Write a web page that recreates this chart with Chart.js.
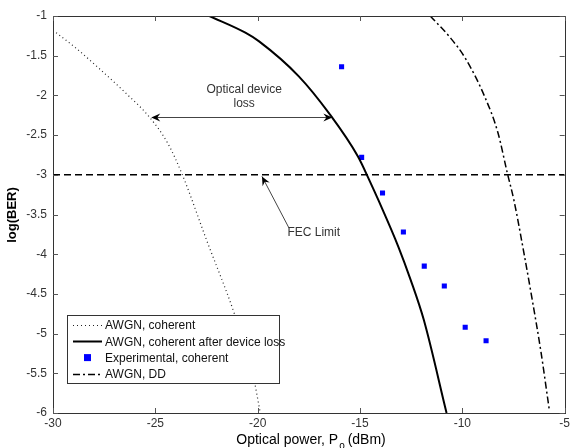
<!DOCTYPE html>
<html><head><meta charset="utf-8">
<script src="https://cdn.jsdelivr.net/npm/chart.js@4/dist/chart.umd.min.js"></script>
<style>html,body{margin:0;padding:0;background:#fff}#wrap{width:573px;height:448px}</style>
</head><body><div id="wrap"><canvas id="c" width="573" height="448"></canvas></div>
<script>
// Data
const xTicks = [-30, -25, -20, -15, -10, -5];
const yTicks = [-1, -1.5, -2, -2.5, -3, -3.5, -4, -4.5, -5, -5.5, -6];

const cohX = [-30, -28.9, -27.75, -26.45, -25.3, -24.4, -23.68, -22.5, -21.15, -20.26, -19.87];
const cohY = [-1.18, -1.4, -1.66, -1.97, -2.27, -2.60, -3.0, -3.82, -4.74, -5.48, -6.0];

const lossX = [-22.36, -20.6, -19.93, -17.99, -16.5, -15.1, -14.54, -14.1, -13.12, -12.53, -11.88, -10.77];
const lossY = [-1.0, -1.21, -1.32, -1.76, -2.23, -2.77, -3.07, -3.32, -3.91, -4.32, -4.83, -6.0];

const expX = [-15.9, -14.92, -13.9, -12.88, -11.86, -10.88, -9.86, -8.84];
const expY = [-1.64, -2.78, -3.23, -3.72, -4.15, -4.40, -4.92, -5.09];

const ddX = [-11.57, -10.6, -9.86, -8.9, -8.26, -7.80, -7.48, -6.98, -6.58, -6.17, -5.74];
const ddY = [-1.0, -1.27, -1.53, -2.02, -2.47, -2.98, -3.32, -4.0, -4.58, -5.21, -5.98];

const fecX = [-30, -5];
const fecY = [-3, -3];

const seriesLabels = ['AWGN, coherent', 'AWGN, coherent after device loss', 'Experimental, coherent', 'AWGN, DD'];
const xTitle = ['Optical power, P', 'o', ' (dBm)'];
const yTitle = 'log(BER)';

const pts = (xs, ys) => xs.map((x, i) => ({x: x, y: ys[i]}));
const FONT = '"Liberation Sans", Arial, sans-serif';

const framePlugin = {
  id: 'frame',
  afterDatasetsDraw(chart) {
    const {ctx, chartArea: a, scales: {x, y}} = chart;
    ctx.save();
    ctx.strokeStyle = '#333';
    ctx.lineWidth = 1;
    ctx.strokeRect(Math.round(a.left) + 0.5, Math.round(a.top) + 0.5, Math.round(a.right - a.left), Math.round(a.bottom - a.top));
    ctx.strokeStyle = '#555';
    ctx.beginPath();
    xTicks.forEach(v => {
      const px = Math.round(x.getPixelForValue(v)) + 0.5;
      ctx.moveTo(px, a.bottom); ctx.lineTo(px, a.bottom - 5);
      ctx.moveTo(px, a.top); ctx.lineTo(px, a.top + 5);
    });
    yTicks.forEach(v => {
      const py = Math.round(y.getPixelForValue(v)) + 0.5;
      ctx.moveTo(a.left, py); ctx.lineTo(a.left + 5, py);
      ctx.moveTo(a.right, py); ctx.lineTo(a.right - 5, py);
    });
    ctx.stroke();

    const arrowHead = (x0, y0, x1, y1) => {
      const ang = Math.atan2(y1 - y0, x1 - x0);
      const L = 9, W = 4;
      ctx.beginPath();
      ctx.moveTo(x1, y1);
      ctx.lineTo(x1 - L * Math.cos(ang) + W * Math.sin(ang), y1 - L * Math.sin(ang) - W * Math.cos(ang));
      ctx.lineTo(x1 - 6 * Math.cos(ang), y1 - 6 * Math.sin(ang));
      ctx.lineTo(x1 - L * Math.cos(ang) - W * Math.sin(ang), y1 - L * Math.sin(ang) + W * Math.cos(ang));
      ctx.closePath();
      ctx.fillStyle = '#000';
      ctx.fill();
    };
    const ax0 = x.getPixelForValue(-25.2), ax1 = x.getPixelForValue(-16.35), ay = Math.round(y.getPixelForValue(-2.27)) + 0.5;
    ctx.strokeStyle = '#444'; ctx.lineWidth = 1;
    ctx.beginPath(); ctx.moveTo(ax0 + 4, ay); ctx.lineTo(ax1 - 4, ay); ctx.stroke();
    arrowHead(ax1, ay, ax0, ay);
    arrowHead(ax0, ay, ax1, ay);
    ctx.fillStyle = '#333';
    ctx.font = '12px ' + FONT;
    ctx.textAlign = 'center'; ctx.textBaseline = 'middle';
    ctx.fillText('Optical device', x.getPixelForValue(-20.66), y.getPixelForValue(-1.93));
    ctx.fillText('loss', x.getPixelForValue(-20.66), y.getPixelForValue(-2.10));
    const fx0 = x.getPixelForValue(-18.47), fy0 = y.getPixelForValue(-3.67);
    const fx1 = x.getPixelForValue(-19.79), fy1 = y.getPixelForValue(-3.02);
    ctx.strokeStyle = '#444';
    ctx.beginPath(); ctx.moveTo(fx0, fy0); ctx.lineTo(fx1, fy1); ctx.stroke();
    arrowHead(fx0, fy0, fx1, fy1);
    ctx.fillStyle = '#333';
    ctx.fillText('FEC Limit', x.getPixelForValue(-17.26), y.getPixelForValue(-3.73));

    const lx = 67, ly = 315, lw = 212, lh = 68;
    ctx.fillStyle = '#fff';
    ctx.fillRect(lx, ly, lw, lh);
    ctx.strokeStyle = '#333';
    ctx.strokeRect(lx + 0.5, ly + 0.5, lw, lh);
    const ds = chart.data.datasets;
    [0, 1, 2, 3].forEach((i, k) => {
      const d = ds[i];
      const cy = ly + 10 + k * 16.3;
      if (i === 2) {
        ctx.fillStyle = d.backgroundColor;
        ctx.fillRect(84, cy - 3.5, 7, 7);
      } else {
        ctx.strokeStyle = d.borderColor;
        ctx.lineWidth = d.borderWidth;
        ctx.setLineDash(d.borderDash || []);
        ctx.beginPath(); ctx.moveTo(73, Math.round(cy) + 0.5); ctx.lineTo(102, Math.round(cy) + 0.5); ctx.stroke();
        ctx.setLineDash([]);
      }
      ctx.fillStyle = '#111';
      ctx.font = '12px ' + FONT;
      ctx.textAlign = 'left'; ctx.textBaseline = 'middle';
      ctx.fillText(d.label, 105, cy + 1);
    });

    ctx.fillStyle = '#000';
    ctx.font = '14px ' + FONT;
    ctx.textBaseline = 'alphabetic';
    ctx.textAlign = 'left';
    const w0 = ctx.measureText(xTitle[0]).width;
    ctx.font = '10px ' + FONT;
    const w1 = ctx.measureText(xTitle[1]).width;
    ctx.font = '14px ' + FONT;
    const w2 = ctx.measureText(xTitle[2]).width;
    let sx = 311 - (w0 + w1 + w2) / 2;
    const base = 444;
    ctx.fillText(xTitle[0], sx, base);
    ctx.font = '10px ' + FONT;
    ctx.fillText(xTitle[1], sx + w0 + 1, base + 5);
    ctx.font = '14px ' + FONT;
    ctx.fillText(xTitle[2], sx + w0 + w1, base);

    ctx.translate(12, 215);
    ctx.rotate(-Math.PI / 2);
    ctx.font = 'bold 13px ' + FONT;
    ctx.textAlign = 'center'; ctx.textBaseline = 'middle';
    ctx.fillText(yTitle, 0, 0);
    ctx.restore();
  }
};

new Chart(document.getElementById('c'), {
  type: 'scatter',
  data: {
    datasets: [
      {label: seriesLabels[0], data: pts(cohX, cohY), showLine: true, borderColor: '#222', borderWidth: 1.2, borderDash: [1, 3], pointRadius: 0, cubicInterpolationMode: 'monotone'},
      {label: seriesLabels[1], data: pts(lossX, lossY), showLine: true, borderColor: '#000', borderWidth: 2, pointRadius: 0, cubicInterpolationMode: 'monotone'},
      {label: seriesLabels[2], data: pts(expX, expY), showLine: false, backgroundColor: '#0000ff', borderColor: '#0000ff', pointStyle: 'rect', pointRadius: 3.6, borderWidth: 0},
      {label: seriesLabels[3], data: pts(ddX, ddY), showLine: true, borderColor: '#000', borderWidth: 1.5, borderDash: [7, 3, 2, 3], pointRadius: 0, cubicInterpolationMode: 'monotone'},
      {label: 'FEC', data: pts(fecX, fecY), showLine: true, borderColor: '#000', borderWidth: 1.5, borderDash: [7, 4], pointRadius: 0}
    ]
  },
  options: {
    responsive: false,
    animation: false,
    layout: {padding: {left: 0, top: 16, right: 6, bottom: 0}},
    plugins: {legend: {display: false}, tooltip: {enabled: false}},
    scales: {
      x: {
        type: 'linear', min: -30, max: -5,
        afterFit: s => { s.height = 35; },
        afterBuildTicks: s => { s.ticks = xTicks.map(v => ({value: v})); },
        grid: {display: false, drawTicks: false},
        border: {display: false},
        ticks: {padding: 3, color: '#333', font: {family: FONT, size: 12}, callback: v => String(v), maxRotation: 0}
      },
      y: {
        type: 'linear', min: -6, max: -1,
        afterFit: s => { s.width = 53; },
        afterBuildTicks: s => { s.ticks = yTicks.map(v => ({value: v})); },
        grid: {display: false, drawTicks: false},
        border: {display: false},
        ticks: {padding: 6, color: '#333', font: {family: FONT, size: 12}, callback: v => String(v)}
      }
    }
  },
  plugins: [framePlugin]
});
</script>
</body></html>
